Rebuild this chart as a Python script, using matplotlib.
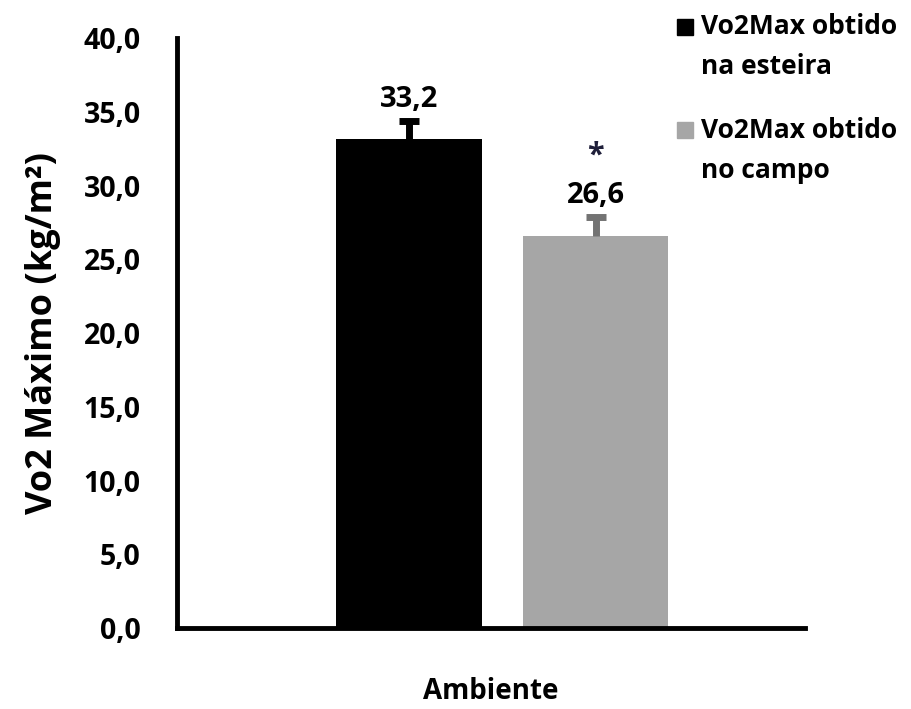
import matplotlib.pyplot as plt
from matplotlib.patches import Rectangle

plt.rcParams['font.family'] = ['Open Sans', 'DejaVu Sans']
plt.rcParams['font.weight'] = 'bold'

# dados
grupos = ["Vo2Max obtido\nna esteira", "Vo2Max obtido\nno campo"]
valores = [33.2, 26.6]
erros = [1.2, 1.3]
rotulos = ["33,2", "26,6"]
cores = ["#000000", "#a6a6a6"]
cores_erro = ["#000000", "#737373"]
yticks = [0, 5, 10, 15, 20, 25, 30, 35, 40]

fig = plt.figure(figsize=(9.12, 7.09), dpi=100)
ax = fig.add_axes([0.194, 0.114, 0.689, 0.832])

x = [0, 1]
for i in range(len(valores)):
    ax.bar(x[i], valores[i], width=0.78, color=cores[i], zorder=2)
    topo = valores[i] + erros[i]
    ax.plot([x[i], x[i]], [valores[i], topo], color=cores_erro[i], lw=5,
            solid_capstyle="butt", zorder=3)
    ax.plot([x[i]], [topo], marker="_", markersize=15, mew=5,
            color=cores_erro[i], zorder=3)
    ax.annotate(rotulos[i], (x[i], topo), xytext=(0, 5),
                textcoords="offset points", ha="center", va="bottom",
                fontsize=21, fontweight="bold")

# asterisco
ax.annotate("*", (x[1], valores[1] + erros[1]), xytext=(0, 33),
            textcoords="offset points", ha="center", va="bottom",
            fontsize=22, fontweight="bold", color="#1f1f3a")

ax.set_xlim(-1.244, 2.123)
ax.set_ylim(0, 40)
ax.set_yticks(yticks)
ax.set_yticklabels([("%.1f" % t).replace(".", ",") for t in yticks])
ax.set_xticks([])
ax.tick_params(axis="y", length=0, pad=26, labelsize=20.5)
for l in ax.get_yticklabels():
    l.set_fontweight("bold")

ax.spines["top"].set_visible(False)
ax.spines["right"].set_visible(False)
ax.spines["left"].set_linewidth(3.5)
ax.spines["bottom"].set_linewidth(3.5)

ax.set_ylabel("Vo2 Máximo (kg/m²)", fontsize=26, fontweight="bold", labelpad=16)
ax.set_xlabel("Ambiente", fontsize=20, fontweight="bold", labelpad=35)

# legenda
leg_y = [27, 130]
for i in range(len(grupos)):
    yc = 1 - leg_y[i] / 709
    fig.patches.append(Rectangle((677 / 912, yc - 8 / 709), 16 / 912, 16 / 709,
                                 transform=fig.transFigure, color=cores[i]))
    for j, linha in enumerate(grupos[i].split("\n")):
        fig.text(701 / 912, yc - j * 40 / 709, linha, ha="left", va="center",
                 fontsize=19, fontweight="bold")

plt.savefig("out.png", dpi=100)
